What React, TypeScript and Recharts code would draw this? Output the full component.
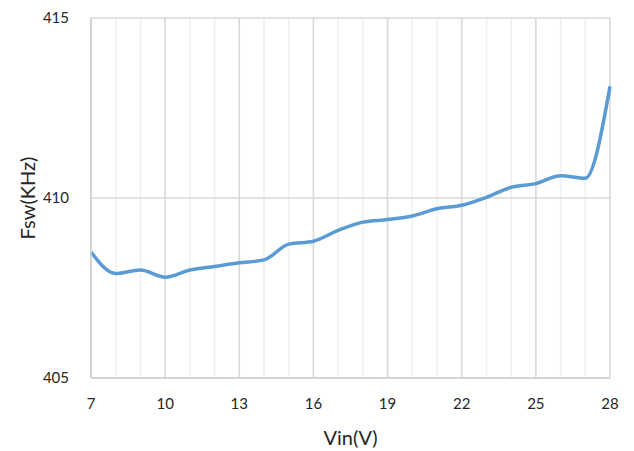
import React from 'react';
import {
  LineChart,
  Line,
  XAxis,
  YAxis,
  CartesianGrid,
} from 'recharts';

// Vin (V) on the x axis, Fsw (KHz) on the y axis
const vin = [7, 8, 9, 10, 11, 12, 13, 14, 15, 16, 17, 18, 19, 20, 21, 22, 23, 24, 25, 26, 27, 28];
const fsw = [
  408.5, 407.9, 408.0, 407.8, 408.0, 408.1, 408.2, 408.28, 408.72, 408.8, 409.1,
  409.33, 409.4, 409.5, 409.7, 409.8, 410.02, 410.3, 410.4, 410.62, 410.55, 413.1,
];

const xTicks = [7, 10, 13, 16, 19, 22, 25, 28];
const xMinorTicks = [7, 8, 9, 10, 11, 12, 13, 14, 15, 16, 17, 18, 19, 20, 21, 22, 23, 24, 25, 26, 27, 28];
const yTicks = [405, 410, 415];

const data = vin.map((v, i) => ({ vin: v, fsw: fsw[i] }));

const FONT = 'Lato, "Open Sans", sans-serif';

export default function App() {
  return (
    <div style={{ position: 'absolute', left: 0, top: 0, width: 634, height: 451, background: '#fff' }}>
      <LineChart
        width={634}
        height={451}
        data={data}
        margin={{ top: 18, right: 24, left: 0, bottom: 0 }}
      >
        {/* minor vertical grid, every 1 V */}
        <CartesianGrid
          xAxisId="minor"
          horizontal={false}
          stroke="#efefef"
          strokeWidth={1.5}
        />
        {/* major grid */}
        <CartesianGrid stroke="#d9d9d9" strokeWidth={1.5} />
        <XAxis
          xAxisId="minor"
          dataKey="vin"
          type="number"
          domain={[7, 28]}
          ticks={xMinorTicks}
          hide
        />
        <XAxis
          dataKey="vin"
          type="number"
          domain={[7, 28]}
          ticks={xTicks}
          height={73}
          tickLine={false}
          axisLine={{ stroke: '#d0d0d0', strokeWidth: 1.5 }}
          tick={{ fill: '#262626', fontSize: 15, fontFamily: FONT }}
          tickMargin={14}
          label={{
            value: 'Vin(V)',
            position: 'insideBottom',
            offset: 6,
            fill: '#262626',
            fontSize: 20,
            fontFamily: FONT,
          }}
        />
        <YAxis
          type="number"
          domain={[405, 415]}
          ticks={yTicks}
          width={91}
          tickLine={false}
          axisLine={{ stroke: '#d0d0d0', strokeWidth: 1.5 }}
          tick={{ fill: '#262626', fontSize: 15, fontFamily: FONT }}
          tickMargin={16}
          label={{
            value: 'Fsw(KHz)',
            angle: -90,
            position: 'insideLeft',
            offset: 28,
            style: { textAnchor: 'middle' },
            fill: '#262626',
            fontSize: 20,
            fontFamily: FONT,
          }}
        />
        <Line
          xAxisId={0}
          type="monotone"
          dataKey="fsw"
          stroke="#5b9bd5"
          strokeWidth={3.5}
          dot={false}
          isAnimationActive={false}
        />
      </LineChart>
    </div>
  );
}
